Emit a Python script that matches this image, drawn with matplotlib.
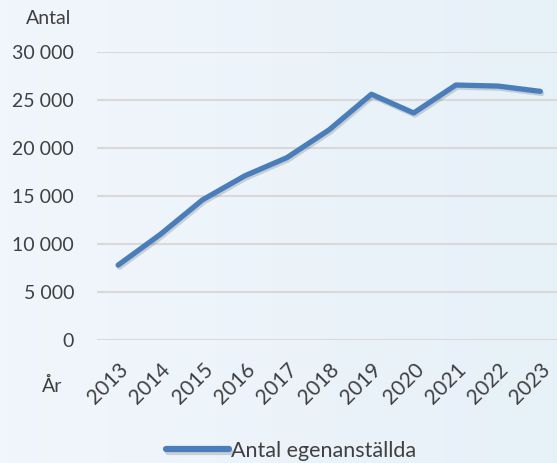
import numpy as np
import matplotlib.pyplot as plt
import matplotlib.patheffects as pe

years = ['2013', '2014', '2015', '2016', '2017', '2018', '2019', '2020', '2021', '2022', '2023']
antal = [7800, 11000, 14600, 17100, 19000, 21900, 25600, 23650, 26560, 26450, 25900]
yticks = [0, 5000, 10000, 15000, 20000, 25000, 30000]
ylabels = ['0', '5 000', '10 000', '15 000', '20 000', '25 000', '30 000']

plt.rcParams['font.family'] = ['Lato', 'DejaVu Sans']
txt = '#404040'

fig = plt.figure(figsize=(5.57, 4.63), dpi=100)

# light blue gradient background
bg = fig.add_axes([0, 0, 1, 1], zorder=-10)
grad = np.linspace(0, 1, 256).reshape(1, -1)
c0 = np.array([0.945, 0.965, 0.985])
c1 = np.array([0.905, 0.945, 0.975])
img = c0[None, None, :] * (1 - grad[..., None]) + c1[None, None, :] * grad[..., None]
bg.imshow(img, aspect='auto', extent=[0, 1, 0, 1])
bg.axis('off')

ax = fig.add_axes([97 / 557, 1 - 340 / 463, 1 - 97 / 557, 288 / 463])
ax.patch.set_alpha(0)
x = np.arange(len(years))
ax.plot(x, antal, color='#4a7ebb', lw=3.8, solid_capstyle='round', solid_joinstyle='round',
        path_effects=[pe.SimpleLineShadow(offset=(1, -1.5), alpha=0.15), pe.Normal()],
        label='Antal egenanställda', zorder=3)

ax.set_ylim(0, 30000)
ax.set_xlim(-0.5, 10.5 * 0.99)
ax.set_yticks(yticks)
ax.set_yticklabels(ylabels, fontsize=14, color=txt)
ax.set_xticks(x)
ax.set_xticklabels(years, rotation=45, ha='right', rotation_mode='anchor', fontsize=15, color=txt)
ax.tick_params(axis='y', length=0, pad=16.5)
ax.tick_params(axis='x', length=0, pad=14)
ax.grid(axis='y', color='#d9d9d9', lw=1.5)
ax.set_axisbelow(True)
for s in ax.spines.values():
    s.set_visible(False)

fig.text(26 / 557, 1 - 18 / 463, 'Antal', fontsize=14, color=txt, va='center', ha='left')
fig.text(42 / 557, 1 - 386 / 463, 'År', fontsize=14, color=txt, va='center', ha='left')

leg = fig.legend(loc='center', bbox_to_anchor=(291 / 557, 1 - 451 / 463), frameon=False,
                 fontsize=15.5, handlelength=2.9, handletextpad=0.1, labelcolor=txt)
for h in leg.get_lines():
    h.set_linewidth(4.5)

fig.savefig('out.png', dpi=100)
